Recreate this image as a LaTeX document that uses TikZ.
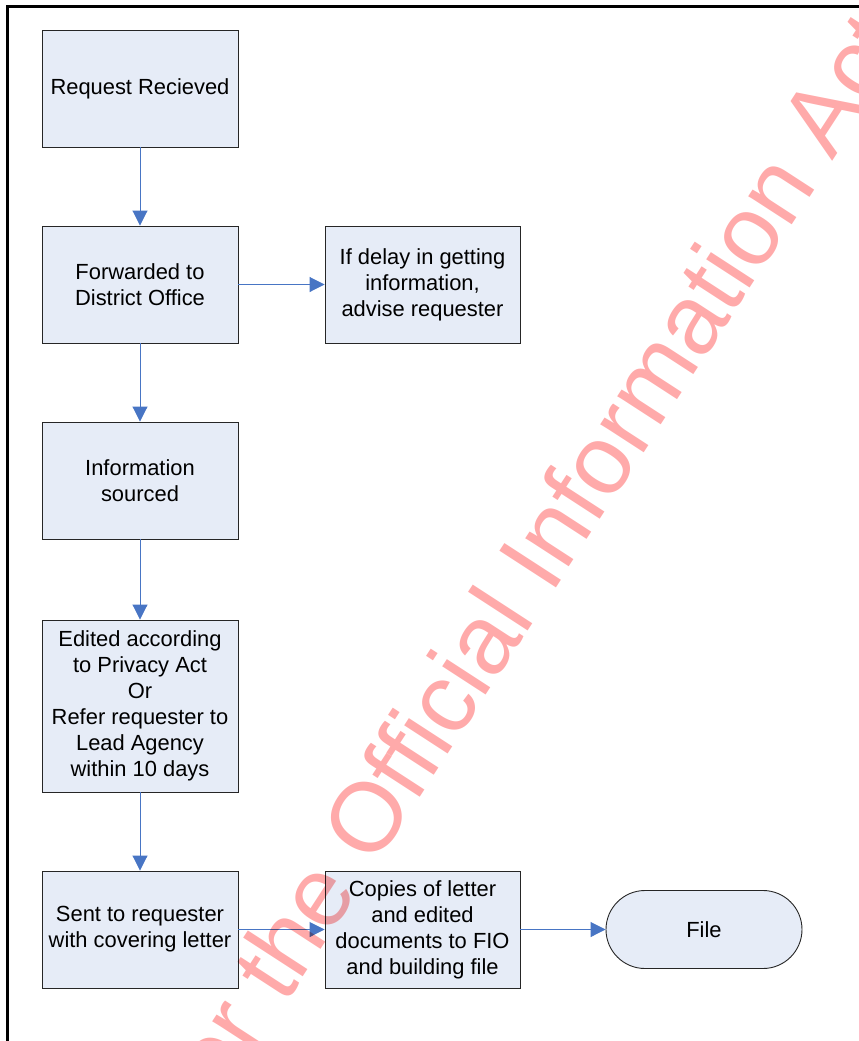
\documentclass[tikz,border=0pt]{standalone}
\usepackage{fontspec}
\setmainfont{Liberation Sans}
\usetikzlibrary{arrows.meta}
\definecolor{boxfill}{RGB}{230,236,247}
\definecolor{arrowblue}{RGB}{72,117,196}
\definecolor{wmark}{RGB}{255,170,170}
\begin{document}
\begin{tikzpicture}[x=1pt,y=-1pt,
  stepbox/.style={draw=black!85, line width=0.9pt, fill=boxfill, minimum width=196pt, minimum height=117pt, inner sep=0pt, align=center, font=\fontsize{21.9}{26}\selectfont},
  flow/.style={draw=arrowblue, line width=0.9pt, -{Triangle[length=15pt,width=15pt]}},
  frameline/.style={line width=3pt, draw=black}]
\useasboundingbox (0,0) rectangle (859,1041);
\draw[frameline] (7.5,1041) -- (7.5,6.5) -- (859,6.5);

\node[stepbox] (b1) at (140,88.5) {Request Recieved};
\node[stepbox] (b2) at (140,284.5) {Forwarded to\\District Office};
\node[stepbox, minimum width=195pt] (rr) at (422.5,284.5) {If delay in getting\\information,\\advise requester};
\node[stepbox] (b3) at (140,480.5) {Information\\sourced};
\node[stepbox, minimum height=172pt] (b4) at (140,706) {Edited according\\to Privacy Act\\Or\\Refer requester to\\Lead Agency\\within 10 days};
\node[stepbox] (b5) at (140,929.5) {Sent to requester\\with covering letter};
\node[stepbox, minimum width=195pt] (b6) at (422.5,929.5) {Copies of letter\\and edited\\documents to FIO\\and building file};
\node[stepbox, minimum height=78pt, rounded corners=39pt] (file) at (704,929.5) {File};

\draw[flow] (b1) -- (b2);
\draw[flow] (b2) -- (rr);
\draw[flow] (b2) -- (b3);
\draw[flow] (b3) -- (b4);
\draw[flow] (b4) -- (b5);
\draw[flow] (b5) -- (b6);
\draw[flow] (b6) -- (file);

\begin{scope}
  \clip (0,0) rectangle (859,1041);
  \begin{scope}[blend mode=multiply]
    \node[rotate=57, anchor=base west, inner sep=0pt, text=wmark, font=\fontsize{98}{98}\selectfont] (wm) at (374,868) {\llap{under the }Official Information Act};
  \end{scope}
\end{scope}
\end{tikzpicture}
\end{document}
